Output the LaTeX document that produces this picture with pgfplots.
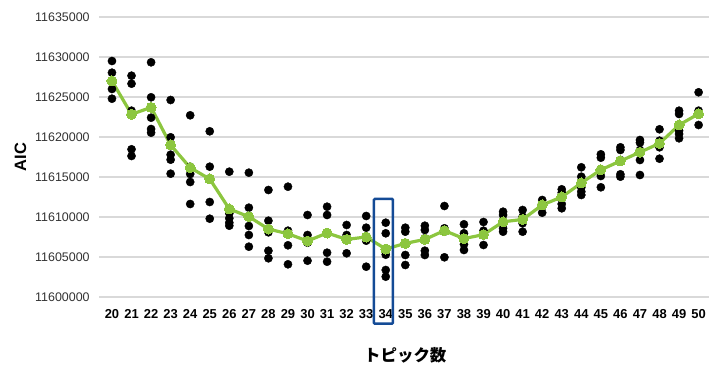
\documentclass[border=0pt]{standalone}
\usepackage{pgfplots}
\pgfplotsset{compat=1.18}
\usepackage{fontspec}
\setmainfont{Liberation Sans}
\newfontfamily\jp{Noto Sans CJK JP}
\definecolor{lgreen}{RGB}{140,198,63}
\definecolor{rectblue}{RGB}{20,75,150}
\definecolor{gridgray}{RGB}{217,217,217}
\definecolor{ticktext}{RGB}{50,50,50}
\begin{document}
\begin{tikzpicture}
\begin{axis}[
  at={(0,0)}, anchor=origin,
  scale only axis,
  width=606.2bp, height=280bp,
  xmin=19.5, xmax=50.5,
  ymin=11600000, ymax=11635000,
  clip=false,
  scaled y ticks=false,
  axis line style={draw=none},
  ymajorgrids,
  grid style={draw=gridgray, line width=1.3bp},
  xtick={20,21,...,50},
  xticklabels={20,21,22,23,24,25,26,27,28,29,30,31,32,33,34,35,36,37,38,39,40,41,42,43,44,45,46,47,48,49,50},
  ytick={11600000,11605000,11610000,11615000,11620000,11625000,11630000,11635000},
  yticklabels={11600000,11605000,11610000,11615000,11620000,11625000,11630000,11635000},
  xtick style={draw=none},
  ytick style={draw=gridgray, line width=1.3bp},
  tick align=outside,
  major tick length=3bp,
  xticklabel style={font=\fontsize{13}{15}\selectfont\bfseries, text=black, yshift=-6bp},
  yticklabel style={font=\fontsize{12.5}{14}\selectfont, text=ticktext, xshift=-6bp},
  xlabel={\jp\bfseries トピック数},
  xlabel style={at={(axis description cs:0.5,-0.207)}, anchor=center, font=\fontsize{16.5}{18}\selectfont},
  ylabel={\bfseries AIC},
  ylabel style={at={(axis description cs:-0.135,0.5)}, anchor=center, rotate=0, font=\fontsize{16.5}{18}\selectfont},
]
\addplot[only marks, mark=*, mark size=4.1bp, draw=black, fill=black] table[x=x, y=y] {
x y
20 11629500
20 11628037
20 11626000
20 11624787
21 11627663
21 11626663
21 11623288
21 11618463
21 11617625
22 11629337
22 11624963
22 11622413
22 11621000
22 11620538
23 11624625
23 11619963
23 11617788
23 11617163
23 11615413
24 11622713
24 11616288
24 11615375
24 11614375
24 11611625
25 11620713
25 11616288
25 11614838
25 11611875
25 11609788
26 11615663
26 11610463
26 11609838
26 11609288
26 11608913
27 11615538
27 11611163
27 11608875
27 11607750
27 11606288
28 11613375
28 11609538
28 11608088
28 11605788
28 11604838
29 11613788
29 11608288
29 11606463
29 11604088
30 11610250
30 11607750
30 11606788
30 11604538
31 11611288
31 11610250
31 11608000
31 11605538
31 11604413
32 11609000
32 11607750
32 11605463
33 11610125
33 11608663
33 11607038
33 11603788
34 11609288
34 11607963
34 11605288
34 11603375
34 11602538
35 11608663
35 11608163
35 11605250
35 11604000
36 11608913
36 11608375
36 11607338
36 11605788
36 11605250
37 11611375
37 11608588
37 11608163
37 11604963
38 11609088
38 11607963
38 11607125
38 11606588
38 11605875
39 11609375
39 11608288
39 11607875
39 11606500
40 11610663
40 11610250
40 11609413
40 11608588
40 11608163
41 11610875
41 11610038
41 11609213
41 11608163
42 11612125
42 11611713
42 11611288
42 11610538
43 11613463
43 11613038
43 11612538
43 11611625
43 11611088
44 11616213
44 11615038
44 11613713
44 11613163
44 11612750
45 11617838
45 11617413
45 11615125
45 11613713
46 11618713
46 11618375
46 11617125
46 11615338
46 11615038
47 11619625
47 11619288
47 11618375
47 11617125
47 11615250
48 11620963
48 11619538
48 11619000
48 11618713
48 11617288
49 11623288
49 11622875
49 11620788
49 11620375
49 11619838
50 11625588
50 11623288
50 11621500
};
\addplot[color=lgreen, line width=3.2bp, mark=*, mark size=5bp, mark options={fill=lgreen, draw=lgreen, line width=0pt}] table[x=x, y=y] {
x y
20 11627000
21 11622840
22 11623700
23 11619000
24 11616160
25 11614750
26 11611000
27 11610040
28 11608500
29 11607900
30 11607000
31 11608000
32 11607200
33 11607500
34 11606000
35 11606700
36 11607200
37 11608300
38 11607300
39 11607800
40 11609400
41 11609700
42 11611500
43 11612500
44 11614250
45 11615900
46 11617000
47 11618100
48 11619200
49 11621500
50 11622900
};
\draw[color=rectblue, line width=2.5bp, rounded corners=1bp] (axis cs:33.39,11596660) rectangle (axis cs:34.37,11612250);
\end{axis}
\pgfresetboundingbox
\path[use as bounding box] (-102.2bp,-69bp) rectangle (606.8bp,297bp);
\end{tikzpicture}
\end{document}
